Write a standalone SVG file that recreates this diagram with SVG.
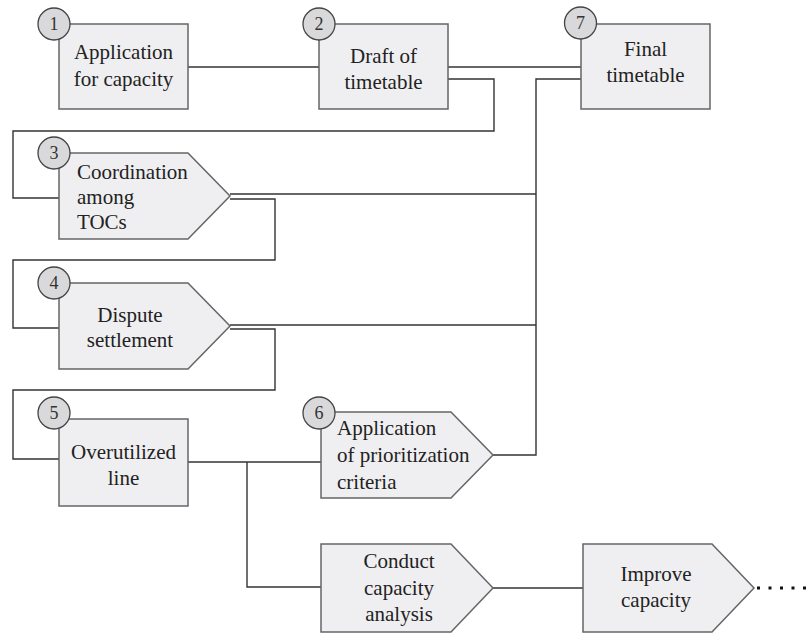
<svg xmlns="http://www.w3.org/2000/svg" width="808" height="633" viewBox="0 0 808 633">
<style>
.box{fill:#efeff1;stroke:#666;stroke-width:1.5}
.num{fill:#d9d9db;stroke:#444;stroke-width:1.3}
.t{font-size:21px;fill:#222}
.c{text-anchor:middle}
.n{font-size:18px;fill:#333;text-anchor:middle}
.ln{fill:none;stroke:#333;stroke-width:1.4}
.dot{fill:none;stroke:#111;stroke-width:3;stroke-dasharray:3 8.5}
</style>
<rect width="808" height="633" fill="#fff"/>
<g id="connectors">
<path class="ln" d="M188 67H319"/>
<path class="ln" d="M448 67H581"/>
<path class="ln" d="M448 79H494V131H13V198H59"/>
<path class="ln" d="M581 79H536V455H493"/>
<path class="ln" d="M230 194H536"/>
<path class="ln" d="M230 199H275V260H13V328H59"/>
<path class="ln" d="M230 325H536"/>
<path class="ln" d="M230 329H275V390H13V459H59"/>
<path class="ln" d="M188 462H321"/>
<path class="ln" d="M247 462V587H321"/>
<path class="ln" d="M493 588H583"/>
<path class="dot" d="M757 588H808"/>
</g>
<g font-family="Liberation Serif, Times New Roman, serif">
<g id="node1">
<rect class="box" x="59" y="24" width="129" height="85"/>
<circle class="num" cx="54" cy="24" r="16"/>
<text class="n" x="54" y="30">1</text>
<text class="t c" x="123.5" y="59">Application</text>
<text class="t c" x="123.5" y="86">for capacity</text>
</g>
<g id="node2">
<rect class="box" x="319" y="24" width="129" height="85"/>
<circle class="num" cx="319" cy="24" r="16"/>
<text class="n" x="319" y="30">2</text>
<text class="t c" x="383.5" y="63">Draft of</text>
<text class="t c" x="383.5" y="89">timetable</text>
</g>
<g id="node7">
<rect class="box" x="581" y="24" width="129" height="85"/>
<circle class="num" cx="580.5" cy="23" r="16"/>
<text class="n" x="580.5" y="29">7</text>
<text class="t c" x="645.5" y="56">Final</text>
<text class="t c" x="645.5" y="82">timetable</text>
</g>
<g id="node3">
<path class="box" d="M59 153H188L230 196L188 239H59Z"/>
<circle class="num" cx="54" cy="153" r="16"/>
<text class="n" x="54" y="159">3</text>
<text class="t" x="77" y="179">Coordination</text>
<text class="t" x="77" y="204">among</text>
<text class="t" x="77" y="229">TOCs</text>
</g>
<g id="node4">
<path class="box" d="M59 283H188L230 326L188 369H59Z"/>
<circle class="num" cx="54" cy="283" r="16"/>
<text class="n" x="54" y="289">4</text>
<text class="t c" x="130" y="322">Dispute</text>
<text class="t c" x="130" y="347">settlement</text>
</g>
<g id="node5">
<rect class="box" x="59" y="419" width="129" height="87"/>
<circle class="num" cx="54" cy="413" r="16"/>
<text class="n" x="54" y="419">5</text>
<text class="t c" x="123.5" y="459">Overutilized</text>
<text class="t c" x="123.5" y="485">line</text>
</g>
<g id="node6">
<path class="box" d="M321 412H451L493 455L451 498H321Z"/>
<circle class="num" cx="319" cy="413" r="16"/>
<text class="n" x="319" y="419">6</text>
<text class="t" x="337" y="435">Application</text>
<text class="t" x="337" y="462">of prioritization</text>
<text class="t" x="337" y="489">criteria</text>
</g>
<g id="node-conduct">
<path class="box" d="M321 544H451L493 588L451 632H321Z"/>
<text class="t c" x="399" y="568">Conduct</text>
<text class="t c" x="399" y="595">capacity</text>
<text class="t c" x="399" y="621">analysis</text>
</g>
<g id="node-improve">
<path class="box" d="M583 544H712L754 588L712 632H583Z"/>
<text class="t c" x="656" y="581">Improve</text>
<text class="t c" x="656" y="607">capacity</text>
</g>
</g>
</svg>
